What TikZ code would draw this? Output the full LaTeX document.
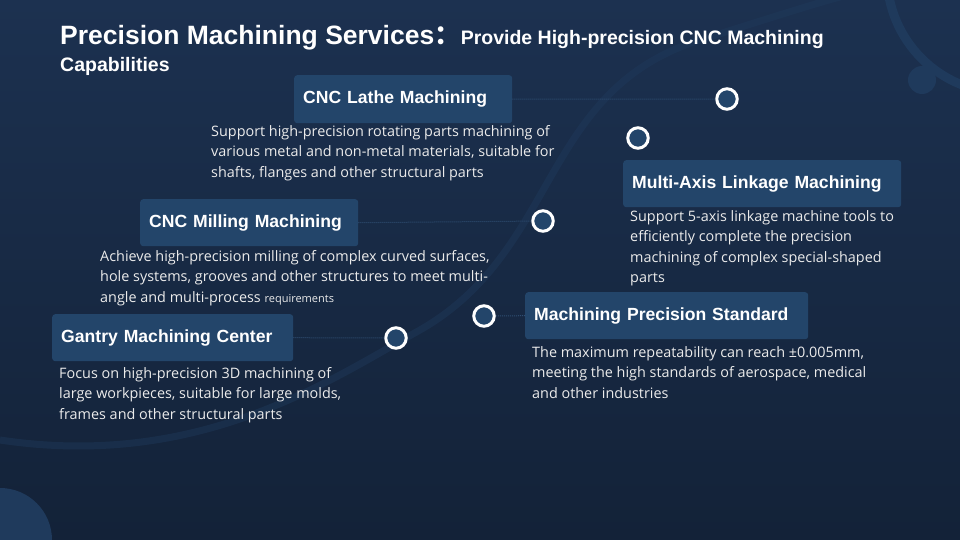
\documentclass[tikz,border=0pt]{standalone}
\usepackage{fontspec}
\setmainfont{Open Sans}
\newfontfamily\headfont{Liberation Sans}
\newfontfamily\cjk{Noto Sans CJK SC}
\usetikzlibrary{positioning}
\definecolor{bgtop}{HTML}{1C3150}
\definecolor{bgbot}{HTML}{132238}
\definecolor{boxblue}{HTML}{23456A}
\definecolor{deco}{HTML}{1F3A5C}
\definecolor{dotline}{HTML}{2F4E72}
\tikzset{
  topic/.style={fill=boxblue,rounded corners=3pt,anchor=north west,inner sep=0pt,
    font=\headfont\bfseries\fontsize{17.6}{20}\selectfont,text=white,align=left},
  desc/.style={anchor=north west,inner sep=0pt,text=white!92!black,align=left,
    font=\fontsize{14.4}{20.5}\selectfont},
  ring/.style={circle,draw=white,line width=3pt,fill=boxblue,minimum size=20.5pt,inner sep=0pt},
  link/.style={dotline,densely dotted,line width=1pt}
}
\begin{document}
\begin{tikzpicture}[x=1pt,y=-1pt]
\useasboundingbox (0,0) rectangle (960,540);
\shade[top color=bgtop,bottom color=bgbot] (0,0) rectangle (960,540);
% background decoration
\draw[deco,line width=7pt,opacity=0.45] (0,440) .. controls (200,470) and (330,380) .. (420,330)
  .. controls (560,250) and (540,90) .. (700,40) .. controls (780,15) and (840,-5) .. (870,-10);
\draw[deco,line width=9pt] (1005,-25) circle (118);
\fill[deco] (922,80) circle (14);
\fill[deco] (0,540) circle (52);
% title
\node[anchor=west,inner sep=0pt,text=white,font=\headfont\bfseries\fontsize{26.5}{30}\selectfont] (title) at (60,38)
  {Precision Machining Services{\cjk\bfseries ：}\fontsize{19.5}{20}\selectfont Provide High-precision CNC Machining};
\node[anchor=west,inner sep=0pt,text=white,font=\headfont\bfseries\fontsize{19.5}{20}\selectfont] (title2) at (60,66) {Capabilities};
% rings
\node[ring] (r1) at (727,99) {};
\node[ring] (r2) at (638,138) {};
\node[ring] (r3) at (543,221) {};
\node[ring] (r4) at (484,316) {};
\node[ring] (r5) at (396,338) {};
% topic boxes
\node[topic,minimum width=218pt,minimum height=48pt,text width=212pt] (lathe) at (294,75) {\hspace*{6pt}CNC Lathe Machining};
\node[topic,minimum width=278pt,minimum height=47pt,text width=272pt] (multi) at (623,160) {\hspace*{6pt}Multi-Axis Linkage Machining};
\node[topic,minimum width=218pt,minimum height=47pt,text width=212pt] (mill) at (140,199) {\hspace*{6pt}CNC Milling Machining};
\node[topic,minimum width=241pt,minimum height=47pt,text width=235pt] (gantry) at (52,314) {\hspace*{6pt}Gantry Machining Center};
\node[topic,minimum width=283pt,minimum height=47pt,text width=277pt] (prec) at (525,292) {\hspace*{6pt}Machining Precision Standard};
% connectors
\draw[link] (lathe.east) -- (r1);
\draw[link] (mill.east) -- (r3);
\draw[link] (gantry.east) -- (r5);
\draw[link] (prec.west) -- (r4);
% descriptions
\node[desc] (d1) at (211,125) {Support high-precision rotating parts machining of\\various metal and non-metal materials, suitable for\\shafts, flanges and other structural parts};
\node[desc] (d2) at (630,210) {Support 5-axis linkage machine tools to\\efficiently complete the precision\\machining of complex special-shaped\\parts};
\node[desc] (d3) at (100,250) {Achieve high-precision milling of complex curved surfaces,\\hole systems, grooves and other structures to meet multi-\\angle and multi-process {\fontsize{11}{20}\selectfont requirements}};
\node[desc] (d4) at (59,367) {Focus on high-precision 3D machining of\\large workpieces, suitable for large molds,\\frames and other structural parts};
\node[desc] (d5) at (532,346) {The maximum repeatability can reach ±0.005mm,\\meeting the high standards of aerospace, medical\\and other industries};
\end{tikzpicture}
\end{document}
